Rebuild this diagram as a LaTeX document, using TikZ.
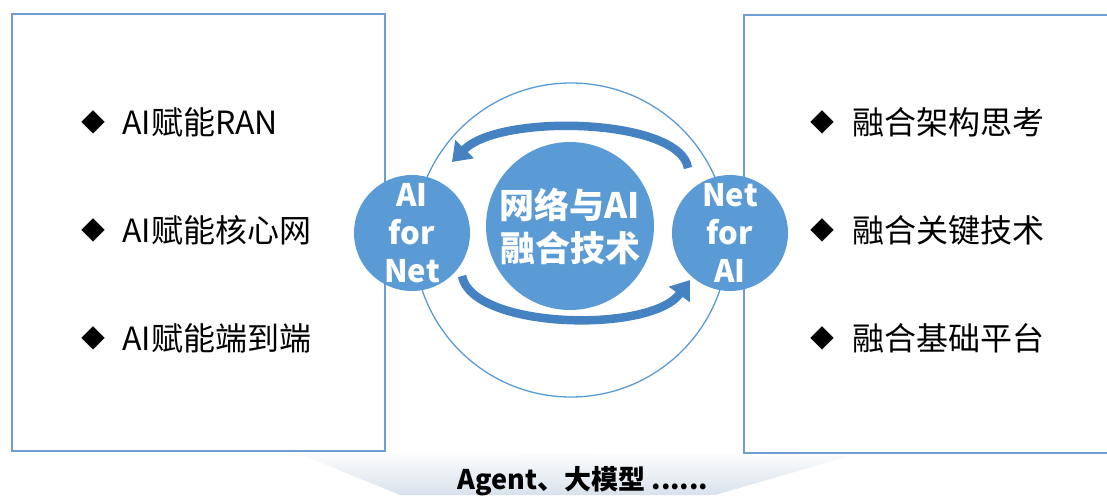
\documentclass[tikz,border=0pt]{standalone}
\usepackage{fontspec}
\setmainfont{Noto Sans CJK SC}
\usetikzlibrary{arrows.meta,shapes.geometric}
\definecolor{cblue}{HTML}{5B9BD5}
\definecolor{bborder}{HTML}{6E9DD1}
\definecolor{arrowblue}{HTML}{4582C2}
\definecolor{fan}{HTML}{D8E2EC}
\begin{document}
\begin{tikzpicture}[x=1pt,y=-1pt,
  box/.style={draw=bborder, line width=1.5pt, fill=white, inner sep=0pt},
  bul/.style={font=\fontsize{24}{24}\selectfont, inner sep=0pt},
  item/.style={anchor=west, font=\fontsize{32}{32}\selectfont, inner sep=0pt},
  ball/.style={circle, fill=cblue, text=white, align=center, inner sep=0pt, font=\bfseries\fontsize{31}{38}\selectfont},
  carrow/.style={draw=arrowblue, line width=8.5pt, -{Triangle[width=25pt,length=18pt]}}
]
\useasboundingbox (0,0) rectangle (1107,495);
\clip (0,0) rectangle (1107,495);
% bottom fan
\shade[top color=white, bottom color=fan] (290,450) -- (850,456) -- (715,495) -- (400,495) -- cycle;
% boxes
\node[box, minimum width=373pt, minimum height=437pt] (lbox) at (198.5,232.5) {};
\node[box, minimum width=380pt, minimum height=438pt] (rbox) at (934,234) {};
% left items
\node[bul] (ld1) at (93,122) {◆};
\node[item] (l1) at (122,122) {AI赋能RAN};
\node[bul] (ld2) at (93,230) {◆};
\node[item] (l2) at (122,230) {AI赋能核心网};
\node[bul] (ld3) at (93,338) {◆};
\node[item] (l3) at (122,338) {AI赋能端到端};
% right items
\node[bul] (rd1) at (822,122) {◆};
\node[item] (r1) at (852,122) {融合架构思考};
\node[bul] (rd2) at (822,230) {◆};
\node[item] (r2) at (852,230) {融合关键技术};
\node[bul] (rd3) at (822,338) {◆};
\node[item] (r3) at (852,338) {融合基础平台};
% outer ring
\node[circle, draw=cblue, line width=1.3pt, minimum size=314pt, inner sep=0pt] (ring) at (571,240) {};
% arrows
\coordinate (ta) at (688,168);
\coordinate (tb) at (452,162);
\coordinate (ba) at (462,276);
\coordinate (bb) at (690,280);
\draw[carrow] (ta) .. controls (680,118) and (500,113) .. (tb);
\draw[carrow] (ba) .. controls (472,329) and (650,334) .. (bb);
% circles
\node[ball, minimum size=168pt, font=\bfseries\fontsize{35}{43}\selectfont] (core) at (570,226) {网络与AI\\融合技术};
\node[ball, minimum size=116pt] (afn) at (412,233) {AI\\for\\Net};
\node[ball, minimum size=116pt] (nfa) at (730,233) {Net\\for\\AI};
% bottom text
\node[font=\bfseries\fontsize{27}{27}\selectfont, inner sep=0pt] (agent) at (583,481) {Agent、大模型 ......};
\end{tikzpicture}
\end{document}
